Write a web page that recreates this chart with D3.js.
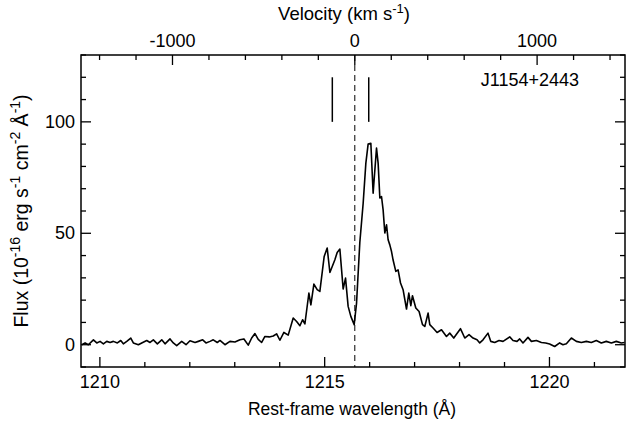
<!DOCTYPE html>
<html>
<head>
<meta charset="utf-8">
<script src="https://d3js.org/d3.v7.min.js"></script>
<title>J1154+2443 Lya</title>
<style>
  body { margin: 0; background: #fff; }
  svg text { font-family: "Liberation Sans", Arial, Helvetica, sans-serif; fill: #000; }
</style>
</head>
<body>
<script>
// rest-frame wavelength (A) and flux (1e-16 erg/s/cm2/A)
var wave = [1209.598,1209.671,1209.744,1209.856,1209.931,1210.004,1210.078,1210.153,1210.227,1210.300,
            1210.389,1210.464,1210.522,1210.598,1210.687,1210.744,1210.856,1210.931,1211.042,1211.116,
            1211.189,1211.278,1211.376,1211.449,1211.560,1211.633,1211.709,1211.820,1211.916,1212.004,
            1212.116,1212.189,1212.287,1212.360,1212.449,1212.522,1212.611,1212.671,1212.782,1212.893,
            1213.004,1213.116,1213.204,1213.300,1213.376,1213.449,1213.522,1213.598,1213.671,1213.767,
            1213.856,1213.931,1214.004,1214.093,1214.189,1214.300,1214.376,1214.449,1214.509,1214.560,
            1214.649,1214.693,1214.760,1214.833,1214.893,1214.989,1215.056,1215.116,1215.227,1215.278,
            1215.338,1215.411,1215.464,1215.522,1215.582,1215.656,1215.709,1215.782,1215.856,1215.916,
            1215.967,1216.027,1216.078,1216.100,1216.153,1216.189,1216.227,1216.264,1216.300,1216.338,
            1216.376,1216.411,1216.449,1216.487,1216.522,1216.582,1216.633,1216.687,1216.744,1216.820,
            1216.871,1216.916,1216.953,1217.027,1217.100,1217.176,1217.227,1217.300,1217.338,1217.411,
            1217.500,1217.598,1217.709,1217.782,1217.871,1218.020,1218.116,1218.211,1218.300,1218.389,
            1218.449,1218.522,1218.633,1218.693,1218.782,1218.878,1218.967,1219.116,1219.189,1219.278,
            1219.338,1219.411,1219.522,1219.598,1219.709,1219.820,1219.916,1220.004,1220.116,1220.227,
            1220.300,1220.376,1220.487,1220.598,1220.709,1220.820,1220.931,1221.042,1221.153,1221.264,
            1221.376,1221.487,1221.598,1221.671];
var flux = [0.0,0.8,0.0,2.2,0.8,1.5,0.4,1.5,1.0,1.5,
            0.8,1.9,0.4,1.5,3.0,0.8,0.0,0.8,1.9,1.0,
            2.2,0.4,2.2,0.4,2.6,0.8,-0.4,1.5,0.0,1.8,
            1.0,1.5,2.2,0.8,1.5,2.2,1.0,1.9,0.0,1.5,
            1.2,2.2,2.6,-0.2,3.0,5.0,2.4,1.0,3.7,3.5,
            3.9,4.9,2.0,5.5,4.3,12.0,10.4,8.5,11.2,9.3,
            23.2,17.9,27.2,24.7,23.9,39.6,43.4,32.4,38.1,41.4,
            42.9,25.0,29.9,17.2,12.7,9.0,18.7,46.0,63.5,81.5,
            90.1,90.4,68.0,74.0,88.2,81.5,65.8,66.5,60.5,50.1,
            53.8,47.1,44.8,41.8,38.0,32.9,33.6,27.7,24.7,16.0,
            23.2,17.5,22.0,16.5,14.9,9.0,8.2,14.2,9.0,7.5,
            5.5,6.7,3.7,5.2,3.0,7.2,3.0,4.5,3.0,2.2,
            0.8,2.2,5.2,1.5,1.0,1.9,1.5,3.5,1.9,1.5,
            2.6,0.8,3.3,1.5,1.9,1.0,0.8,0.3,-0.8,0.8,
            0.0,0.4,3.0,1.5,1.0,1.5,1.0,1.9,0.8,1.5,
            0.8,1.5,0.8,1.0];

var xDomain = [1209.58, 1221.68],
    yDomain = [-10, 130],
    lam0 = 1215.67,            // Lya rest wavelength
    cLight = 299792.458,
    xMajor = [1210, 1215, 1220],
    yMajor = [0, 50, 100],
    vMajor = [-1000, 0, 1000],
    peakMarks = [1215.17, 1215.98],   // short vertical markers
    markRange = [100, 120],
    label = "J1154+2443";

var W = 626, H = 423,
    m = {left: 81, right: 1, top: 55, bottom: 56},
    fs = 18;

var svg = d3.select("body").append("svg")
  .attr("width", W)
  .attr("height", H);

var x = d3.scaleLinear().domain(xDomain).range([m.left, W - m.right]);
var y = d3.scaleLinear().domain(yDomain).range([H - m.bottom, m.top]);
// velocity axis: v = c (lambda - lam0) / lam0
var v = d3.scaleLinear()
  .domain(xDomain.map(function(l){ return cLight*(l - lam0)/lam0; }))
  .range(x.range());

var g = svg.append("g");

function tickLen(isMajor){ return isMajor ? 10 : 5; }

// bottom ticks (1 A minor)
var xt = d3.range(1210, 1222, 1);
g.selectAll("line.xt").data(xt).enter().append("line")
  .attr("x1", function(d){ return x(d); }).attr("x2", function(d){ return x(d); })
  .attr("y1", y.range()[0]).attr("y2", function(d){ return y.range()[0] - tickLen(xMajor.indexOf(d) >= 0); })
  .attr("stroke", "#000").attr("stroke-width", 1.3);
g.selectAll("text.xl").data(xMajor).enter().append("text")
  .attr("x", function(d){ return x(d); }).attr("y", H - m.bottom + 21)
  .attr("text-anchor", "middle").attr("font-size", fs).text(function(d){ return d; });

// top ticks (velocity, 200 km/s minor)
var vt = d3.range(-1400, 1401, 200);
g.selectAll("line.vt").data(vt).enter().append("line")
  .attr("x1", function(d){ return v(d); }).attr("x2", function(d){ return v(d); })
  .attr("y1", m.top).attr("y2", function(d){ return m.top + tickLen(vMajor.indexOf(d) >= 0); })
  .attr("stroke", "#000").attr("stroke-width", 1.3);
g.selectAll("text.vl").data(vMajor).enter().append("text")
  .attr("x", function(d){ return v(d); }).attr("y", m.top - 8)
  .attr("text-anchor", "middle").attr("font-size", fs).text(function(d){ return d; });

// left and right ticks (10 minor)
var yt = d3.range(-10, 131, 10);
[m.left, W - m.right].forEach(function(x0, side){
  g.selectAll("line.yt" + side).data(yt).enter().append("line")
    .attr("x1", x0)
    .attr("x2", function(d){ var l = tickLen(yMajor.indexOf(d) >= 0); return side ? x0 - l : x0 + l; })
    .attr("y1", function(d){ return y(d); }).attr("y2", function(d){ return y(d); })
    .attr("stroke", "#000").attr("stroke-width", 1.3);
});
g.selectAll("text.yl").data(yMajor).enter().append("text")
  .attr("x", m.left - 6).attr("y", function(d){ return y(d) + 6; })
  .attr("text-anchor", "end").attr("font-size", fs).text(function(d){ return d; });

// frame
g.append("rect")
  .attr("x", m.left).attr("y", m.top)
  .attr("width", W - m.left - m.right).attr("height", H - m.top - m.bottom)
  .attr("fill", "none").attr("stroke", "#000").attr("stroke-width", 1.5);

// Lya systemic dashed line
g.append("line")
  .attr("x1", x(lam0)).attr("x2", x(lam0))
  .attr("y1", m.top).attr("y2", H - m.bottom)
  .attr("stroke", "#000").attr("stroke-width", 1).attr("stroke-dasharray", "6,4");

// peak markers
g.selectAll("line.pk").data(peakMarks).enter().append("line")
  .attr("x1", function(d){ return x(d); }).attr("x2", function(d){ return x(d); })
  .attr("y1", y(markRange[0])).attr("y2", y(markRange[1]))
  .attr("stroke", "#000").attr("stroke-width", 1.5);

// spectrum
var line = d3.line()
  .x(function(d){ return x(d[0]); })
  .y(function(d){ return y(d[1]); });
g.append("path")
  .datum(d3.zip(wave, flux))
  .attr("d", line)
  .attr("fill", "none").attr("stroke", "#000").attr("stroke-width", 1.6)
  .attr("stroke-linejoin", "round");

// object label
g.append("text")
  .attr("x", 530).attr("y", y(116))
  .attr("text-anchor", "middle").attr("font-size", fs).text(label);

// axis titles
var tt = g.append("text")
  .attr("x", 344).attr("y", 20)
  .attr("text-anchor", "middle").attr("font-size", 18.5);
tt.append("tspan").text("Velocity (km s");
tt.append("tspan").attr("dy", -7).attr("font-size", 13).text("-1");
tt.append("tspan").attr("dy", 7).text(")");

g.append("text")
  .attr("x", 352).attr("y", 415)
  .attr("text-anchor", "middle").attr("font-size", 17.5)
  .text("Rest-frame wavelength (\u00c5)");

var yl = g.append("text")
  .attr("transform", "translate(28," + ((m.top + H - m.bottom)/2) + ") rotate(-90)")
  .attr("text-anchor", "middle").attr("font-size", 19.5);
yl.append("tspan").text("Flux (10");
yl.append("tspan").attr("dy", -8).attr("font-size", 14).text("-16");
yl.append("tspan").attr("dy", 8).text(" erg s");
yl.append("tspan").attr("dy", -8).attr("font-size", 14).text("-1");
yl.append("tspan").attr("dy", 8).text(" cm");
yl.append("tspan").attr("dy", -8).attr("font-size", 14).text("-2");
yl.append("tspan").attr("dy", 8).text(" \u00c5");
yl.append("tspan").attr("dy", -8).attr("font-size", 14).text("-1");
yl.append("tspan").attr("dy", 8).text(")");
</script>
</body>
</html>
